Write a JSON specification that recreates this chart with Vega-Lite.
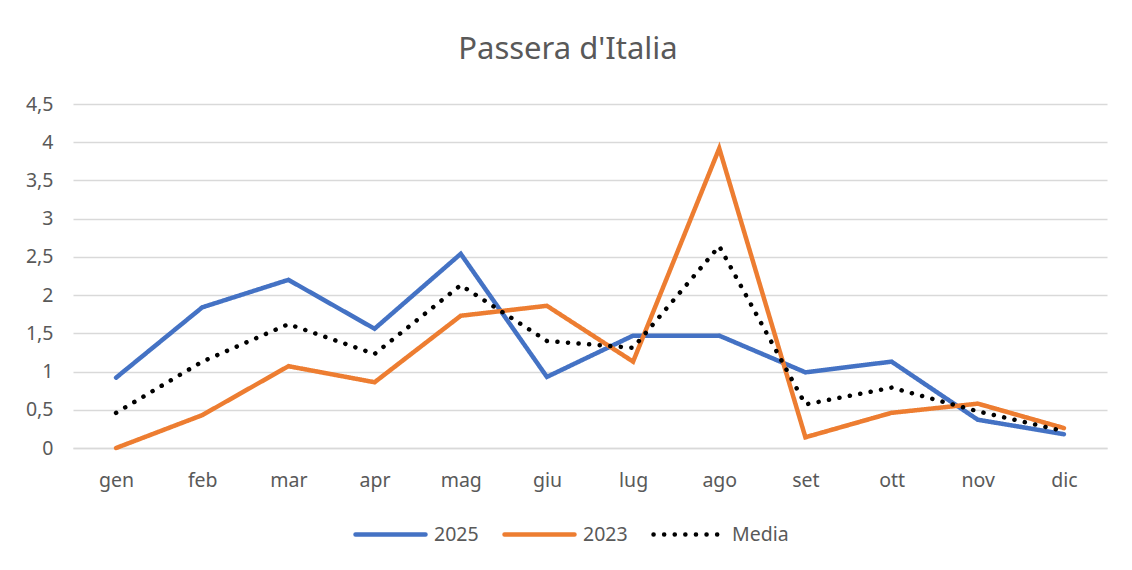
{
  "$schema": "https://vega.github.io/schema/vega-lite/v6.json",
  "width": 1034,
  "height": 344,
  "autosize": "none",
  "padding": {"left": 73, "top": 104, "right": 25, "bottom": 122},
  "background": "white",
  "title": {
    "text": "Passera d'Italia",
    "fontSize": 31,
    "font": "Noto Sans",
    "fontWeight": "normal",
    "color": "#595959",
    "anchor": "middle",
    "dx": -22,
    "offset": 28
  },
  "config": {
    "view": {"stroke": null},
    "font": "Noto Sans"
  },
  "data": {
    "values": [
      {"mese": "gen", "serie": "2025", "valore": 0.92},
      {"mese": "feb", "serie": "2025", "valore": 1.84},
      {"mese": "mar", "serie": "2025", "valore": 2.2},
      {"mese": "apr", "serie": "2025", "valore": 1.56},
      {"mese": "mag", "serie": "2025", "valore": 2.54},
      {"mese": "giu", "serie": "2025", "valore": 0.93},
      {"mese": "lug", "serie": "2025", "valore": 1.47},
      {"mese": "ago", "serie": "2025", "valore": 1.47},
      {"mese": "set", "serie": "2025", "valore": 0.99},
      {"mese": "ott", "serie": "2025", "valore": 1.13},
      {"mese": "nov", "serie": "2025", "valore": 0.37},
      {"mese": "dic", "serie": "2025", "valore": 0.18},
      {"mese": "gen", "serie": "2023", "valore": 0.0},
      {"mese": "feb", "serie": "2023", "valore": 0.43},
      {"mese": "mar", "serie": "2023", "valore": 1.07},
      {"mese": "apr", "serie": "2023", "valore": 0.86},
      {"mese": "mag", "serie": "2023", "valore": 1.73},
      {"mese": "giu", "serie": "2023", "valore": 1.86},
      {"mese": "lug", "serie": "2023", "valore": 1.13},
      {"mese": "ago", "serie": "2023", "valore": 3.92},
      {"mese": "set", "serie": "2023", "valore": 0.14},
      {"mese": "ott", "serie": "2023", "valore": 0.46},
      {"mese": "nov", "serie": "2023", "valore": 0.58},
      {"mese": "dic", "serie": "2023", "valore": 0.26},
      {"mese": "gen", "serie": "Media", "valore": 0.46},
      {"mese": "feb", "serie": "Media", "valore": 1.13},
      {"mese": "mar", "serie": "Media", "valore": 1.62},
      {"mese": "apr", "serie": "Media", "valore": 1.23},
      {"mese": "mag", "serie": "Media", "valore": 2.13},
      {"mese": "giu", "serie": "Media", "valore": 1.4},
      {"mese": "lug", "serie": "Media", "valore": 1.31},
      {"mese": "ago", "serie": "Media", "valore": 2.64},
      {"mese": "set", "serie": "Media", "valore": 0.57},
      {"mese": "ott", "serie": "Media", "valore": 0.79},
      {"mese": "nov", "serie": "Media", "valore": 0.48},
      {"mese": "dic", "serie": "Media", "valore": 0.22}
    ]
  },
  "mark": {"type": "line", "strokeWidth": 4.5, "strokeCap": "round", "strokeJoin": "miter"},
  "encoding": {
    "x": {
      "field": "mese",
      "type": "ordinal",
      "sort": ["gen","feb","mar","apr","mag","giu","lug","ago","set","ott","nov","dic"],
      "scale": {"type": "point", "padding": 0.5},
      "axis": {
        "title": null,
        "labelAngle": 0,
        "ticks": false,
        "domain": true,
        "domainColor": "#d9d9d9",
        "domainWidth": 1.5,
        "labelColor": "#595959",
        "labelFontSize": 19.5,
        "labelPadding": 23,
        "grid": false
      }
    },
    "y": {
      "field": "valore",
      "type": "quantitative",
      "scale": {"domain": [0, 4.5], "nice": false},
      "axis": {
        "title": null,
        "values": [0, 0.5, 1, 1.5, 2, 2.5, 3, 3.5, 4, 4.5],
        "labelExpr": "replace(toString(datum.value), '.', ',')",
        "ticks": false,
        "domain": false,
        "gridColor": "#d9d9d9",
        "gridWidth": 1.5,
        "labelColor": "#595959",
        "labelFontSize": 19.5,
        "labelPadding": 20
      }
    },
    "color": {
      "field": "serie",
      "type": "nominal",
      "scale": {"domain": ["2025", "2023", "Media"], "range": ["#4472C4", "#ED7D31", "#000000"]},
      "legend": {
        "title": null,
        "orient": "none",
        "legendX": 280,
        "legendY": 393,
        "direction": "horizontal",
        "symbolType": "stroke",
        "symbolSize": 4900,
        "symbolStrokeWidth": 4.5,
        "labelFontSize": 19.5,
        "labelColor": "#595959",
        "columnPadding": 16,
        "labelOffset": 6,
        "encode": {"symbols": {"update": {"strokeCap": {"value": "round"}}}}
      }
    },
    "strokeDash": {
      "field": "serie",
      "type": "nominal",
      "scale": {"domain": ["2025", "2023", "Media"], "range": [[1, 0], [1, 0], [0.1, 10.5]]},
      "legend": null
    }
  }
}
